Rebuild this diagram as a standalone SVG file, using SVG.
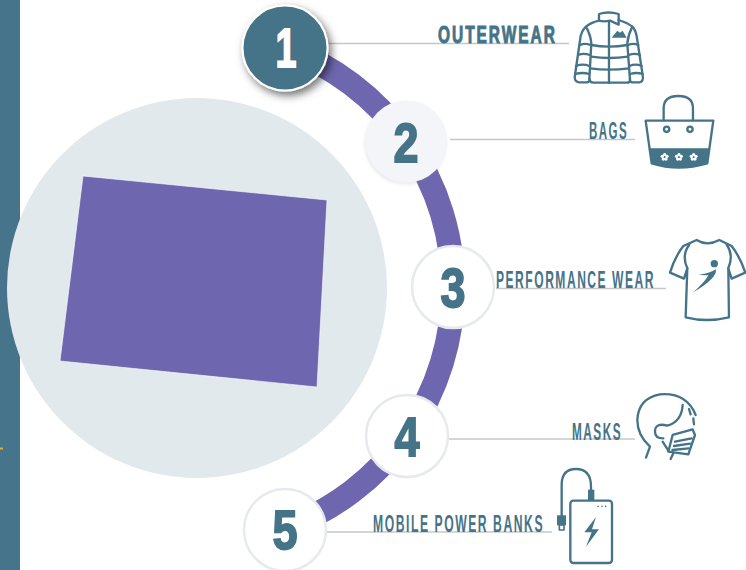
<svg xmlns="http://www.w3.org/2000/svg" width="746" height="570" viewBox="0 0 746 570">
<style>
text{font-family:"Liberation Sans",Arial,sans-serif;fill:#457388}
.lab{font-size:23.500px;font-weight:700;letter-spacing:3px}
.num{font-size:55px;font-weight:700;text-anchor:middle;stroke:#457388;stroke-width:1.800}
.lead{stroke:#c6c7c9;stroke-width:1.500;fill:none}
.ic{fill:none;stroke:#457388;stroke-width:7;stroke-linecap:round;stroke-linejoin:round}
.icf{fill:#457388}
.ring{fill:#fff;stroke:#e6e9ee;stroke-width:2.500}
</style>
<defs>
<filter id="sh" x="-30%" y="-30%" width="170%" height="170%"><feDropShadow dx="3" dy="4" stdDeviation="4" flood-color="#000" flood-opacity=".55"/></filter>
<filter id="sh2" x="-20%" y="-20%" width="140%" height="140%"><feDropShadow dx="-1" dy="2" stdDeviation="1.500" flood-color="#8a94a0" flood-opacity=".2"/></filter>
<g id="fl" fill="#fff"><circle cx="0" cy="-7" r="5"/><circle cx="7" cy="-2" r="5"/><circle cx="4" cy="6" r="5"/><circle cx="-4" cy="6" r="5"/><circle cx="-7" cy="-2" r="5"/><circle r="2.500" fill="#457388"/></g>
</defs>
<rect width="746" height="570" fill="#fff"/>
<rect id="sidebar" x="0" y="0" width="20" height="570" fill="#46748a"/>
<rect x="0" y="447.500" width="3" height="2" fill="#f5a623"/>
<circle cx="197" cy="288" r="190" fill="#e2e9ed"/>
<polygon points="83,176 327,200 317,387 60,361" fill="#6e66ae" stroke="#fff" stroke-width=".6"/>
<g id="connectors">
<path d="M285 48A255.400 255.400 0 0 1 285 528" fill="none" stroke="#6e66ae" stroke-width="24"/>
<path class="lead" d="M329 43.500H569"/>
<path class="lead" d="M450 139.500H635"/>
<path class="lead" d="M496 288.500H666"/>
<path class="lead" d="M449 439H635"/>
<path class="lead" d="M327 532H552"/>
</g>
<g id="node-1">
<circle cx="285" cy="48" r="42.500" fill="#457388" stroke="#fff" stroke-width="2" filter="url(#sh)"/>
<text class="num" x="286" y="67" textLength="21" lengthAdjust="spacingAndGlyphs" style="fill:#fff;stroke:#fff">1</text>
<text class="lab" transform="translate(438 43) scale(.55 1)" textLength="216" lengthAdjust="spacingAndGlyphs" style="stroke:#457388;stroke-width:1">OUTERWEAR</text>
<g transform="translate(430 0) scale(.3333)"><g class="ic">
<path d="M507 62V42Q535 33 566 42V74L540 62Q522 66 507 62Z"/>
<path d="M507 62Q482 68 468 80Q458 88 452 108L435 225Q431 245 447 247H470Q480 247 478 235"/>
<path d="M566 60Q592 68 607 80Q616 88 620 108L638 225Q642 245 628 247H608Q598 247 600 235"/>
<path d="M468 80Q482 105 484 130L478 238Q480 248 490 248H590Q602 248 600 238L592 130Q594 105 607 80"/>
<path d="M537 65V248"/>
<path d="M484 135Q537 145 592 135M484 170Q537 178 594 170M481 205Q537 213 597 205"/>
<path d="M450 135Q465 128 482 135M445 165Q460 158 480 165M438 198Q458 190 478 198M436 222Q458 216 478 222"/>
<path d="M594 135Q610 128 625 135M596 165Q615 158 630 165M598 198Q618 190 635 198M600 222Q620 216 638 222"/>
</g><polygon class="icf" points="545,113 562,92 570,98 578,92 590,113"/></g>
</g>
<g id="node-2">
<circle cx="406.500" cy="141.500" r="41" fill="#f4f5f8" filter="url(#sh2)"/>
<text class="num" x="406" y="162" textLength="25" lengthAdjust="spacingAndGlyphs">2</text>
<text class="lab" transform="translate(589 139) scale(.55 1)" textLength="71" lengthAdjust="spacingAndGlyphs">BAGS</text>
<g transform="translate(430 0) scale(.3333)">
<path class="icf" d="M656 445H838L832 490Q745 515 665 490Z"/>
<g class="ic"><path d="M701 360V325Q701 288 745 288Q789 288 789 325V360"/><path d="M647 362H850L832 490Q745 515 665 490Z"/><circle cx="710" cy="388" r="8"/><circle cx="780" cy="388" r="8"/></g>
<use href="#fl" x="704" y="471"/><use href="#fl" x="747" y="471"/><use href="#fl" x="791" y="471"/>
</g>
</g>
<g id="node-3">
<circle class="ring" cx="453" cy="287" r="41"/>
<text class="num" x="453" y="307" textLength="25" lengthAdjust="spacingAndGlyphs">3</text>
<text class="lab" transform="translate(496 288) scale(.55 1)" textLength="289" lengthAdjust="spacingAndGlyphs">PERFORMANCE WEAR</text>
<g transform="translate(480 230) scale(.3333)"><g class="ic">
<path d="M650 30L610 48Q585 80 570 128L612 146L622 115L617 262Q680 278 747 262L745 115L755 146L796 128Q780 80 755 48L718 30Q682 50 650 30Z"/>
<path d="M628 44Q604 75 622 115M740 44Q762 75 745 115"/>
</g><circle class="icf" cx="703" cy="101" r="11"/><path class="icf" d="M655 132Q680 135 708 118Q712 145 640 187Q680 150 685 135Q670 138 655 132Z"/></g>
</g>
<g id="node-4">
<circle class="ring" cx="407" cy="436" r="41"/>
<text class="num" x="407" y="456" textLength="25" lengthAdjust="spacingAndGlyphs">4</text>
<text class="lab" transform="translate(572 440) scale(.55 1)" textLength="91" lengthAdjust="spacingAndGlyphs">MASKS</text>
<g transform="translate(540 385) scale(.3333)"><g class="ic">
<path d="M318 218L330 185Q292 150 292 105Q295 40 360 28Q440 22 467 90"/>
<path d="M428 60Q425 110 382 122Q345 112 345 140Q345 160 370 160"/>
<path d="M447 72L452 88M460 100L462 118"/>
<path d="M368 170L385 197M400 205L392 222"/>
<path d="M398 150L458 133L465 150L445 208L385 200Z"/>
<path d="M405 170L455 160M402 183L450 176M397 195L446 190"/>
</g></g>
</g>
<g id="node-5">
<circle class="ring" cx="285" cy="530" r="41"/>
<text class="num" x="285" y="549" textLength="25" lengthAdjust="spacingAndGlyphs">5</text>
<text class="lab" transform="translate(373 532) scale(.55 1)" textLength="311" lengthAdjust="spacingAndGlyphs">MOBILE POWER BANKS</text>
<g transform="translate(540 385) scale(.3333)">
<g class="ic"><rect x="91" y="347" width="125" height="187" rx="9"/><path d="M153 320V305Q153 252 108 252Q65 252 65 300V392"/><rect x="58" y="420" width="14" height="15" stroke-width="5"/></g>
<rect class="icf" x="144" y="314" width="19" height="34"/><rect class="icf" x="51" y="391" width="27" height="30"/>
<circle class="icf" cx="174" cy="364" r="2.500"/><circle class="icf" cx="186" cy="364" r="2.500"/><circle class="icf" cx="197" cy="364" r="2.500"/>
<polygon class="icf" points="168,396 133,442 155,442 138,485 177,433 156,433"/>
</g>
</g>
</svg>
